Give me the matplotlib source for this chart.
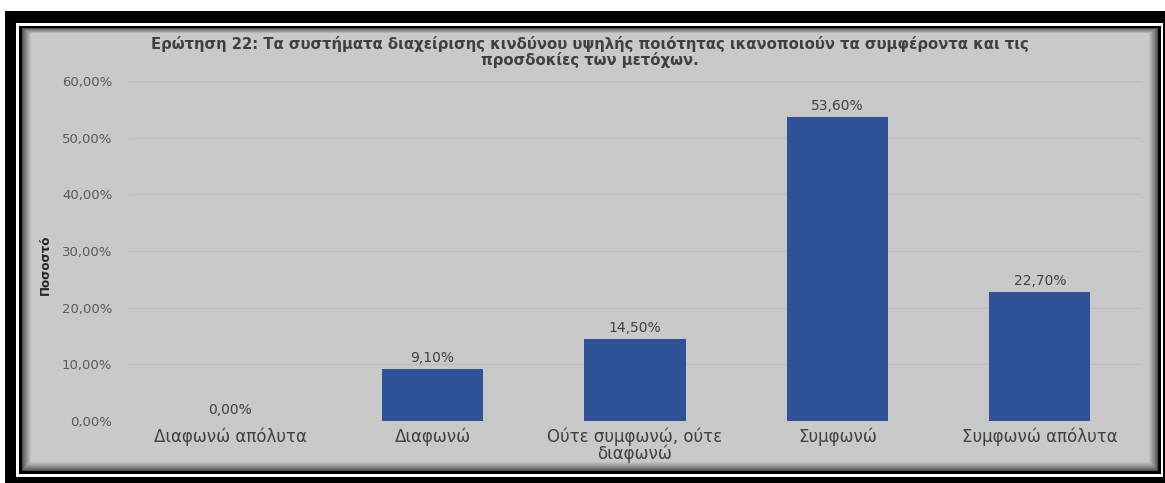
import matplotlib
matplotlib.use("Agg")
import matplotlib.pyplot as plt
from matplotlib.patches import Rectangle
import numpy as np

categories = ["Διαφωνώ απόλυτα", "Διαφωνώ", "Ούτε συμφωνώ, ούτε\nδιαφωνώ", "Συμφωνώ", "Συμφωνώ απόλυτα"]
values = [0.0, 9.1, 14.5, 53.6, 22.7]
yticks = [0, 10, 20, 30, 40, 50, 60]
title = ("Ερώτηση 22: Τα συστήματα διαχείρισης κινδύνου υψηλής ποιότητας ικανοποιούν τα συμφέροντα και τις\n"
         "προσδοκίες των μετόχων.")
ylabel = "Ποσοστό"

W, H = 1165, 483
fig = plt.figure(figsize=(W / 100, H / 100), dpi=100)
fig.patch.set_facecolor("white")

def box(x0, y0, x1, y1, color, z=0):
    fig.add_artist(Rectangle((x0 / W, 1 - y1 / H), (x1 - x0) / W, (y1 - y0) / H,
                             transform=fig.transFigure, facecolor=color,
                             edgecolor="none", zorder=z))

# frame
box(5, 11, 1165, 483, "black", -10)
box(16, 23, 1163, 477, "white", -9)
box(19, 26, 1161, 474, "black", -8)
# shadow gradient
bg = np.array([0xC9, 0xC9, 0xC9]) / 255
dark = np.array([0x30, 0x30, 0x30]) / 255
n = 10
for i in range(n):
    t = ((i + 1) / n) ** 0.7
    c = dark * (1 - t) + bg * t
    box(22 + i, 28 + i * 0.6, 1158 - i, 471 - i, tuple(c), -7 + i * 0.01)
box(22 + n, 28 + n * 0.6, 1158 - n, 471 - n, tuple(bg), -6)

ax = fig.add_axes([129 / W, 62 / H, (1141 - 129) / W, (421 - 81) / H])
ax.set_facecolor("none")
x = np.arange(len(categories))
bars = ax.bar(x, values, width=0.5, color="#2F5197", zorder=3)
ax.set_xlim(-0.5, len(categories) - 0.5)
ax.set_ylim(0, 60)
ax.set_yticks(yticks)
ax.set_yticklabels([f"{v:.2f}%".replace(".", ",") for v in yticks], color="#595959", fontsize=9.5)
ax.set_xticks(x)
ax.set_xticklabels(categories, fontsize=12, color="#404040", linespacing=0.9)
ax.tick_params(axis="both", length=0)
ax.tick_params(axis="y", pad=12)
ax.tick_params(axis="x", pad=5)
ax.grid(axis="y", color="#BCBCBC", linewidth=1, zorder=0)
for s in ax.spines.values():
    s.set_visible(False)

for xi, v in zip(x, values):
    ax.text(xi, v + 0.7, f"{v:.2f}%".replace(".", ","), ha="center", va="bottom",
            fontsize=10, color="#404040", zorder=4)

fig.text(45 / W, 1 - 265 / H, ylabel, rotation=90, ha="center", va="center",
         fontsize=9.5, fontweight="bold", color="#262626", fontstretch="condensed")
fig.text(590 / W, 1 - 52 / H, title, ha="center", va="center", fontsize=10.75,
         fontweight="bold", color="#404040", linespacing=1.0)

fig.savefig("out.png", dpi=100)
